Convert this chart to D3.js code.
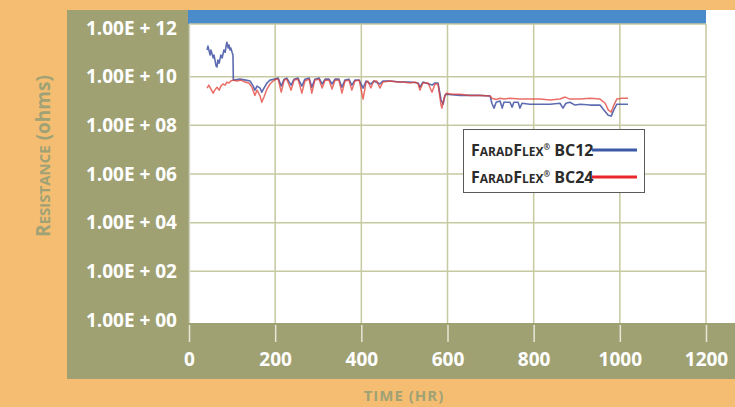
<!DOCTYPE html>
<html><head><meta charset="utf-8">
<script src="https://cdn.jsdelivr.net/npm/d3@7"></script>
<style>
html,body{margin:0;padding:0;background:#F4BD71;}
svg{display:block;}
text{font-family:"Open Sans",sans-serif;}
</style></head>
<body>
<svg id="chart" width="735" height="407"></svg>
<script>
// ---------- data ----------
const hoursBC12 = [42,44,49,51,56,58,63,65,67,70,74,77,81,84,86,88,91,93,95,97,100,102,103,104,118,132,142,149,153,158,165,169,174,181,188,197,207,214,221,227,237,244,253,262,269,279,285,292,302,309,316,325,332,339,348,355,362,371,378,385,395,404,411,422,429,443,450,467,490,513,532,536,543,564,571,578,585,590,594,597,629,675,699,703,708,713,722,727,731,745,750,754,764,768,773,791,815,838,861,868,875,884,896,908,931,954,963,973,980,986,993,1005,1019];
const resistanceBC12 = [1.25e11,1.8e11,7.8e10,1.25e11,5.9e10,7.8e10,2.7e10,2.5e10,4.8e10,3.6e10,7.8e10,5.9e10,1.25e11,1.0e11,1.8e11,2.6e11,1.5e11,2.0e11,1.25e11,1.5e11,1.0e11,7.8e10,7.2e9,7.2e9,7.9e9,7.2e9,6.6e9,4.1e9,2.8e9,4.1e9,3.4e9,2.3e9,3.4e9,5.5e9,7.2e9,7.9e9,8.7e9,4.1e9,7.9e9,8.7e9,4.5e9,7.9e9,8.7e9,4.1e9,7.9e9,8.7e9,3.7e9,7.9e9,8.7e9,5.0e9,7.9e9,7.9e9,5.0e9,7.9e9,7.9e9,3.7e9,7.2e9,7.9e9,4.5e9,7.2e9,7.2e9,3.4e9,6.6e9,5.0e9,6.6e9,5.0e9,6.6e9,6.6e9,6.0e9,6.0e9,5.5e9,3.7e9,6.0e9,4.5e9,5.5e9,5.5e9,1.1e9,7.4e8,1.7e9,1.9e9,1.7e9,1.7e9,1.6e9,8.1e8,5.1e8,8.9e8,1.0e9,5.1e8,8.9e8,8.9e8,5.6e8,8.9e8,8.9e8,5.1e8,8.1e8,7.4e8,7.4e8,7.4e8,8.1e8,5.1e8,8.1e8,8.9e8,6.8e8,7.4e8,6.8e8,6.8e8,4.3e8,2.6e8,2.4e8,4.3e8,7.4e8,7.4e8,7.4e8];

const hoursBC24 = [42,46,51,56,60,65,70,74,79,84,88,93,97,102,111,121,130,139,146,153,158,165,169,174,181,188,195,202,207,214,221,227,237,244,253,262,269,279,285,292,302,309,316,325,332,339,348,355,362,371,378,385,395,404,411,415,422,429,436,443,450,467,483,497,513,525,532,536,543,555,564,571,578,585,587,592,597,610,629,652,675,699,703,713,722,731,745,768,791,815,838,861,873,884,908,931,954,966,973,980,986,993,1005,1019];
const resistanceBC24 = [3.4e9,4.5e9,3.1e9,2.1e9,2.8e9,3.7e9,2.8e9,4.1e9,5.0e9,4.5e9,6.0e9,5.5e9,6.6e9,7.2e9,6.6e9,7.2e9,6.0e9,5.5e9,3.7e9,1.7e9,2.8e9,1.6e9,8.9e8,1.45e9,3.1e9,5.0e9,6.6e9,7.9e9,7.9e9,2.3e9,7.2e9,7.9e9,2.8e9,7.2e9,7.9e9,2.1e9,6.6e9,7.9e9,2.1e9,7.2e9,7.9e9,3.4e9,7.2e9,7.2e9,3.1e9,7.2e9,7.2e9,2.1e9,6.6e9,7.2e9,2.8e9,6.6e9,7.2e9,1.2e9,6.0e9,6.6e9,3.4e9,6.6e9,6.6e9,3.4e9,6.0e9,6.6e9,6.0e9,6.0e9,5.5e9,6.0e9,5.0e9,2.8e9,5.5e9,5.5e9,2.3e9,5.0e9,5.0e9,6.8e8,5.1e8,1.3e9,2.1e9,1.9e9,1.9e9,1.7e9,1.7e9,1.6e9,1.3e9,1.15e9,1.3e9,1.2e9,1.3e9,1.2e9,1.2e9,1.2e9,1.1e9,1.2e9,1.45e9,1.2e9,1.2e9,1.3e9,1.2e9,8.1e8,4.3e8,3.5e8,6.8e8,1.2e9,1.3e9,1.3e9];

const xTickValues = [0,200,400,600,800,1000,1200];
const yTickValues = [1e0,1e2,1e4,1e6,1e8,1e10,1e12];
const yTickLabels = ["1.00E + 00","1.00E + 02","1.00E + 04","1.00E + 06","1.00E + 08","1.00E + 10","1.00E + 12"];
const seriesNames = ["BC12","BC24"];
const seriesColors = ["#34479c","#e23d36"];
const legendColors = ["#3d5aa8","#e8262b"];

// ---------- layout ----------
const svg = d3.select("#chart");
const P = {left:189, right:706, top:24, bottom:323};
const x = d3.scaleLinear().domain([0,1200]).range([189,706]);
const y = d3.scaleLog().domain([1,1e12]).range([320,28]);

// backgrounds
svg.append("rect").attr("x",0).attr("y",0).attr("width",735).attr("height",407).attr("fill","#F4BD71");
svg.append("rect").attr("x",67).attr("y",10).attr("width",668).attr("height",369).attr("fill","#A0A173");
svg.append("rect").attr("x",189).attr("y",10).attr("width",546).attr("height",313).attr("fill","#ffffff");
svg.append("rect").attr("x",188).attr("y",10).attr("width",518).attr("height",14).attr("fill","#4A8BCB");

// gridlines
const grid = svg.append("g").attr("stroke","#c7c9a0").attr("stroke-width",1.5);
grid.selectAll("line.h").data(yTickValues.slice(1,6)).join("line")
  .attr("x1",P.left).attr("x2",P.right).attr("y1",d=>y(d)).attr("y2",d=>y(d));
grid.append("line").attr("x1",P.left).attr("x2",P.right).attr("y1",P.top).attr("y2",P.top);
grid.selectAll("line.v").data(xTickValues.slice(1)).join("line")
  .attr("x1",d=>x(d)).attr("x2",d=>x(d)).attr("y1",P.top).attr("y2",P.bottom);
svg.append("line").attr("x1",189.5).attr("x2",189.5).attr("y1",P.top).attr("y2",P.bottom)
  .attr("stroke","#d4d6c4").attr("stroke-width",1.5);

// x axis
const xAxis = d3.axisBottom(x).tickValues(xTickValues).tickSize(17).tickPadding(11).tickFormat(d3.format("d"));
const gx = svg.append("g").attr("transform","translate(0,325)").call(xAxis);
gx.select(".domain").remove();
gx.selectAll(".tick line").attr("stroke","#e6e7d6").attr("stroke-width",1.5);
gx.selectAll(".tick text").attr("fill","#ffffff").attr("font-size",19).attr("font-weight",700)
  .attr("font-family","'Open Sans',sans-serif").attr("dy","0.71em");

// y axis
const yAxis = d3.axisLeft(y).tickValues(yTickValues).tickSize(0).tickPadding(12)
  .tickFormat((d,i)=>yTickLabels[i]);
const gy = svg.append("g").attr("transform","translate(189,0)").call(yAxis);
gy.select(".domain").remove();
gy.selectAll(".tick text").attr("fill","#ffffff").attr("font-size",19).attr("font-weight",700)
  .attr("font-family","'Open Sans',sans-serif");

// series
const line = d3.line().x(d=>x(d[0])).y(d=>y(d[1]));
const dataBC12 = hoursBC12.map((h,i)=>[h,resistanceBC12[i]]);
const dataBC24 = hoursBC24.map((h,i)=>[h,resistanceBC24[i]]);
svg.append("path").datum(dataBC12).attr("d",line).attr("fill","none")
  .attr("stroke",seriesColors[0]).attr("stroke-width",1.6).attr("stroke-opacity",0.8).attr("stroke-linejoin","round");
svg.append("path").datum(dataBC24).attr("d",line).attr("fill","none")
  .attr("stroke",seriesColors[1]).attr("stroke-width",1.5).attr("stroke-opacity",0.75).attr("stroke-linejoin","round");

// legend
const lg = svg.append("g");
lg.append("rect").attr("x",463.5).attr("y",129.5).attr("width",181).attr("height",63)
  .attr("fill","#ffffff").attr("stroke","#5a5a5a").attr("stroke-width",1);
seriesNames.forEach((name,i)=>{
  const by = 156 + i*27;
  const t = lg.append("text").attr("x",471).attr("y",by).attr("fill","#2b2b2b").attr("font-weight",700)
    .attr("font-family","'Open Sans',sans-serif");
  t.append("tspan").attr("font-size",16).text("F");
  t.append("tspan").attr("font-size",12).text("ARAD");
  t.append("tspan").attr("font-size",16).text("F");
  t.append("tspan").attr("font-size",12).text("LEX");
  t.append("tspan").attr("font-size",8).attr("dy",-6).text("®");
  t.append("tspan").attr("font-size",16).attr("dy",6).text(" " + name);
  lg.append("line").attr("x1",592).attr("x2",637).attr("y1",by-6).attr("y2",by-6)
    .attr("stroke",legendColors[i]).attr("stroke-width",3);
});

// axis titles
const yt = svg.append("text").attr("transform","translate(50,156) rotate(-90)").attr("text-anchor","middle")
  .attr("fill","#9fa276").attr("font-weight",700);
yt.append("tspan").attr("font-size",19).text("R");
yt.append("tspan").attr("font-size",15).text("ESISTANCE");
yt.append("tspan").attr("font-size",19).text(" (ohms)");

svg.append("text").attr("x",404).attr("y",401).attr("text-anchor","middle")
  .attr("fill","#9fa276").attr("font-weight",700).attr("font-size",15).attr("letter-spacing",1)
  .text("TIME (HR)");
</script>
</body></html>
